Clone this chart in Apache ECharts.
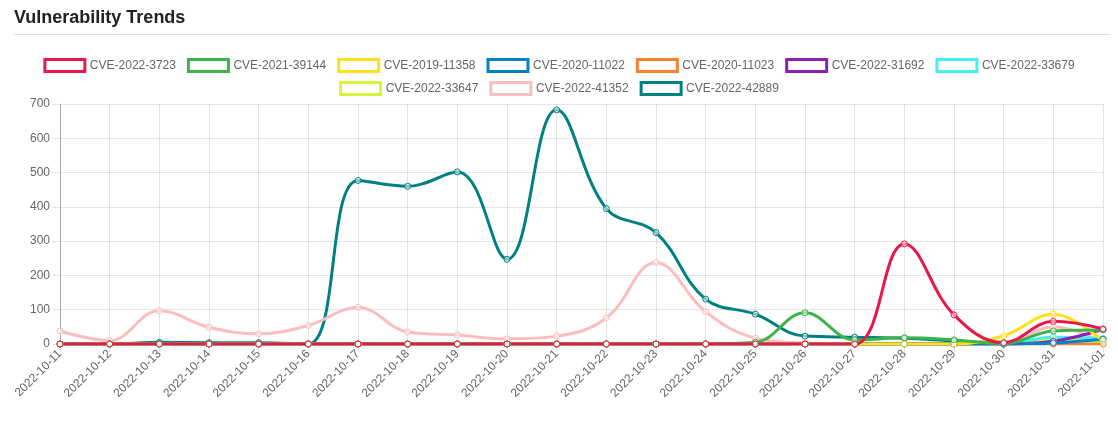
<!DOCTYPE html>
<html>
<head>
<meta charset="utf-8">
<script src="https://cdn.jsdelivr.net/npm/echarts@6/dist/echarts.min.js"></script>
<style>
html,body{margin:0;padding:0;background:#fff;}
#chart{width:1118px;height:428px;}
</style>
</head>
<body>
<div id="chart"></div>
<script>
const dates = ['2022-10-11','2022-10-12','2022-10-13','2022-10-14','2022-10-15','2022-10-16','2022-10-17','2022-10-18','2022-10-19','2022-10-20','2022-10-21','2022-10-22','2022-10-23','2022-10-24','2022-10-25','2022-10-26','2022-10-27','2022-10-28','2022-10-29','2022-10-30','2022-10-31','2022-11-01'];
const yTicks = [0, 100, 200, 300, 400, 500, 600, 700];

const seriesNames = ['CVE-2022-3723','CVE-2021-39144','CVE-2019-11358','CVE-2020-11022','CVE-2020-11023','CVE-2022-31692','CVE-2022-33679','CVE-2022-33647','CVE-2022-41352','CVE-2022-42889'];
const seriesColors = ['#e6194b','#3cb44b','#ffe119','#0082c8','#f58231','#911eb4','#46f0f0','#d2f53c','#fabebe','#008080'];

const cve2022_3723  = [0,0,0,0,0,0,0,0,0,0,0,0,0,0,0,0,0,292,85,4,66,44];
const cve2021_39144 = [0,0,0,0,0,0,0,0,0,0,0,0,0,0,5,91,12,18,12,1,38,41];
const cve2019_11358 = [0,0,0,0,0,0,0,0,0,0,0,0,0,0,0,0,0,0,0,24,87,8];
const cve2020_11022 = [0,0,0,0,0,0,0,0,0,0,0,0,0,0,0,0,0,0,0,0,3,14];
const cve2020_11023 = [0,0,0,0,0,0,0,0,0,0,0,0,0,0,0,0,0,0,0,0,0,0];
const cve2022_31692 = [0,0,0,0,0,0,0,0,0,0,0,0,0,0,0,0,0,0,0,0,8,43];
const cve2022_33679 = [0,0,0,0,0,0,0,0,0,0,0,0,0,0,0,0,0,0,0,0,20,16];
const cve2022_33647 = [0,0,0,0,0,0,0,0,0,0,0,0,0,0,0,0,0,0,0,0,12,8];
const cve2022_41352 = [38,10,97,49,30,54,107,35,26,15,23,76,238,94,17,3,0,0,0,0,50,5];
const cve2022_42889 = [0,0,5,4,4,0,477,460,502,247,683,395,325,131,87,23,20,17,9,2,9,12];

const seriesValues = [cve2022_3723, cve2021_39144, cve2019_11358, cve2020_11022, cve2020_11023, cve2022_31692, cve2022_33679, cve2022_33647, cve2022_41352, cve2022_42889];

const FONT = '"Liberation Sans", Arial, Helvetica, sans-serif';

const legendItem = (i) => ({
  name: seriesNames[i],
  icon: 'rect',
  itemStyle: { color: '#ffffff', borderColor: seriesColors[i], borderWidth: 3 }
});

// Chart.js draws the first dataset on top: add series in reverse order
const series = [];
for (let i = seriesNames.length - 1; i >= 0; i--) {
  series.push({
    name: seriesNames[i],
    type: 'line',
    data: seriesValues[i],
    smooth: 0.4,
    symbol: 'circle',
    symbolSize: 6,
    showSymbol: true,
    lineStyle: { color: seriesColors[i], width: 3 },
    itemStyle: { color: 'rgba(255,255,255,0.5)', borderColor: seriesColors[i], borderWidth: 1 },
    emphasis: { disabled: true },
    animation: false
  });
}

const chart = echarts.init(document.getElementById('chart'), null, { renderer: 'canvas' });
chart.setOption({
  backgroundColor: '#ffffff',
  animation: false,
  title: {
    text: 'Vulnerability Trends',
    left: 14,
    top: 9,
    padding: 0,
    textStyle: { fontFamily: FONT, fontSize: 18, fontWeight: 'bold', color: '#222222' }
  },
  graphic: [{
    type: 'line',
    shape: { x1: 14, y1: 34.5, x2: 1110, y2: 34.5 },
    style: { stroke: '#dddddd', lineWidth: 1 },
    silent: true
  }],
  legend: [
    {
      data: [0,1,2,3,4,5,6].map(legendItem),
      left: 'center',
      top: 53,
      itemWidth: 40,
      itemHeight: 12,
      itemGap: 11,
      textStyle: { fontFamily: FONT, fontSize: 12, color: '#666666' },
      selectedMode: false
    },
    {
      data: [7,8,9].map(legendItem),
      left: 'center',
      top: 76,
      itemWidth: 40,
      itemHeight: 12,
      itemGap: 11,
      textStyle: { fontFamily: FONT, fontSize: 12, color: '#666666' },
      selectedMode: false
    }
  ],
  grid: { left: 60, right: 15, top: 104, bottom: 84, containLabel: false },
  xAxis: {
    type: 'category',
    data: dates,
    boundaryGap: false,
    axisLine: { show: true, lineStyle: { color: 'rgba(0,0,0,0.25)' } },
    axisTick: { show: true, length: 8, lineStyle: { color: 'rgba(0,0,0,0.1)' } },
    splitLine: { show: true, lineStyle: { color: 'rgba(0,0,0,0.1)' } },
    axisLabel: { rotate: 45, margin: 8, fontFamily: FONT, fontSize: 12, color: '#666666', interval: 0 }
  },
  yAxis: {
    type: 'value',
    min: yTicks[0],
    max: yTicks[yTicks.length - 1],
    interval: yTicks[1] - yTicks[0],
    axisLine: { show: true, lineStyle: { color: 'rgba(0,0,0,0.25)' } },
    axisTick: { show: true, length: 8, lineStyle: { color: 'rgba(0,0,0,0.1)' } },
    splitLine: { show: true, lineStyle: { color: 'rgba(0,0,0,0.1)' } },
    axisLabel: { margin: 10, fontFamily: FONT, fontSize: 12, color: '#666666' }
  },
  series: series
});
</script>
</body>
</html>
